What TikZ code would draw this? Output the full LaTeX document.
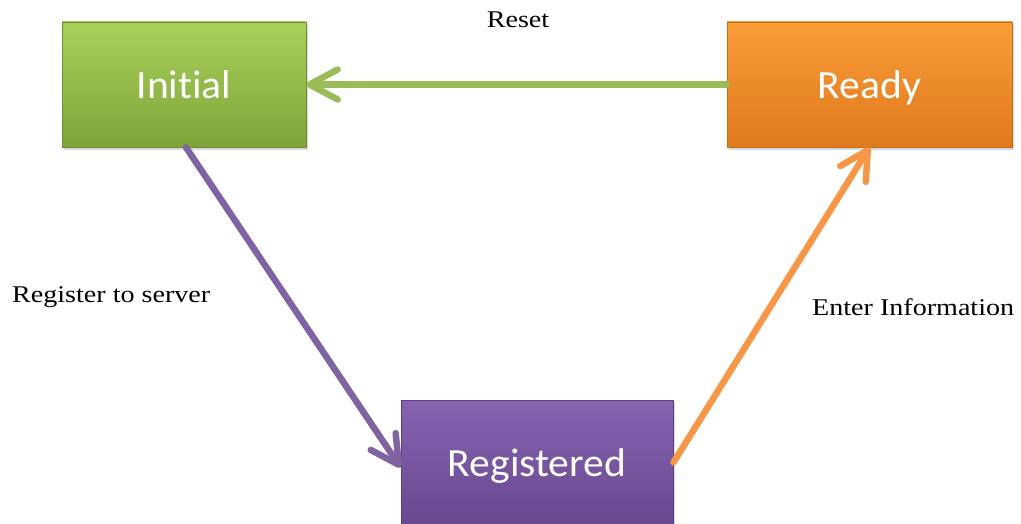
\documentclass[tikz,border=0pt]{standalone}
\usepackage{fontspec}
\setmainfont{Liberation Serif}
\newfontfamily\boxfont[Ligatures=NoCommon]{Carlito}
\usetikzlibrary{arrows.meta,shadows}

\definecolor{grnTop}{HTML}{A9D15A}
\definecolor{grnBot}{HTML}{7EA43A}
\definecolor{grnEdge}{HTML}{6E8F31}
\definecolor{grnArrow}{HTML}{9BBB59}
\definecolor{orgTop}{HTML}{FA9C38}
\definecolor{orgBot}{HTML}{DF7A1E}
\definecolor{orgEdge}{HTML}{C96A16}
\definecolor{orgArrow}{HTML}{F79646}
\definecolor{purTop}{HTML}{8763B0}
\definecolor{purBot}{HTML}{694890}
\definecolor{purEdge}{HTML}{5B3E7E}
\definecolor{purArrow}{HTML}{8064A2}

\tikzset{
  statebox/.style={rectangle, minimum height=125pt, inner sep=0pt,
    text=white, font=\boxfont\fontsize{40}{48}\selectfont,
    text height=28pt, text depth=0pt,
    line width=0.8pt,
    drop shadow={opacity=0.3, shadow xshift=2pt, shadow yshift=-3pt}},
  flow/.style={line width=6.5pt, line cap=round,
    -{Straight Barb[length=28pt, width=30pt, line cap=round, line join=round]}},
  note/.style={font=\fontsize{24}{28}\selectfont, inner sep=0pt}
}

\newcommand{\wide}[1]{\scalebox{1.17}[1]{#1}}

\begin{document}
\begin{tikzpicture}[x=1pt, y=-1pt]
  \useasboundingbox (0,0) rectangle (1021,524);

  % states
  \node[statebox, minimum width=244pt, top color=grnTop, bottom color=grnBot, draw=grnEdge]
    (init) at (184,84.5) {\scalebox{1.04}[1]{Initial}};
  \node[statebox, minimum width=285pt, top color=orgTop, bottom color=orgBot, draw=orgEdge]
    (ready) at (869.5,84.5) {\scalebox{1.04}[1]{Ready}};
  \node[statebox, minimum width=272pt, top color=purTop, bottom color=purBot, draw=purEdge]
    (reg) at (537,462.5) {\scalebox{1.04}[1]{Registered}};

  % transitions
  \draw[flow, grnArrow] (ready.west) -- (init.east);
  \draw[flow, purArrow] ([xshift=2pt]init.south) -- ([yshift=-5pt]reg.west);
  \draw[flow, orgArrow] (reg.east) -- (ready.south);

  % transition labels
  \node[note] (lreset) at (518,20) {\wide{Reset}};
  \node[note, anchor=west] (lregister) at (12,297) {\wide{Register to server}};
  \node[note, anchor=west] (lenter) at (812,307) {\wide{Enter Information}};
\end{tikzpicture}
\end{document}
